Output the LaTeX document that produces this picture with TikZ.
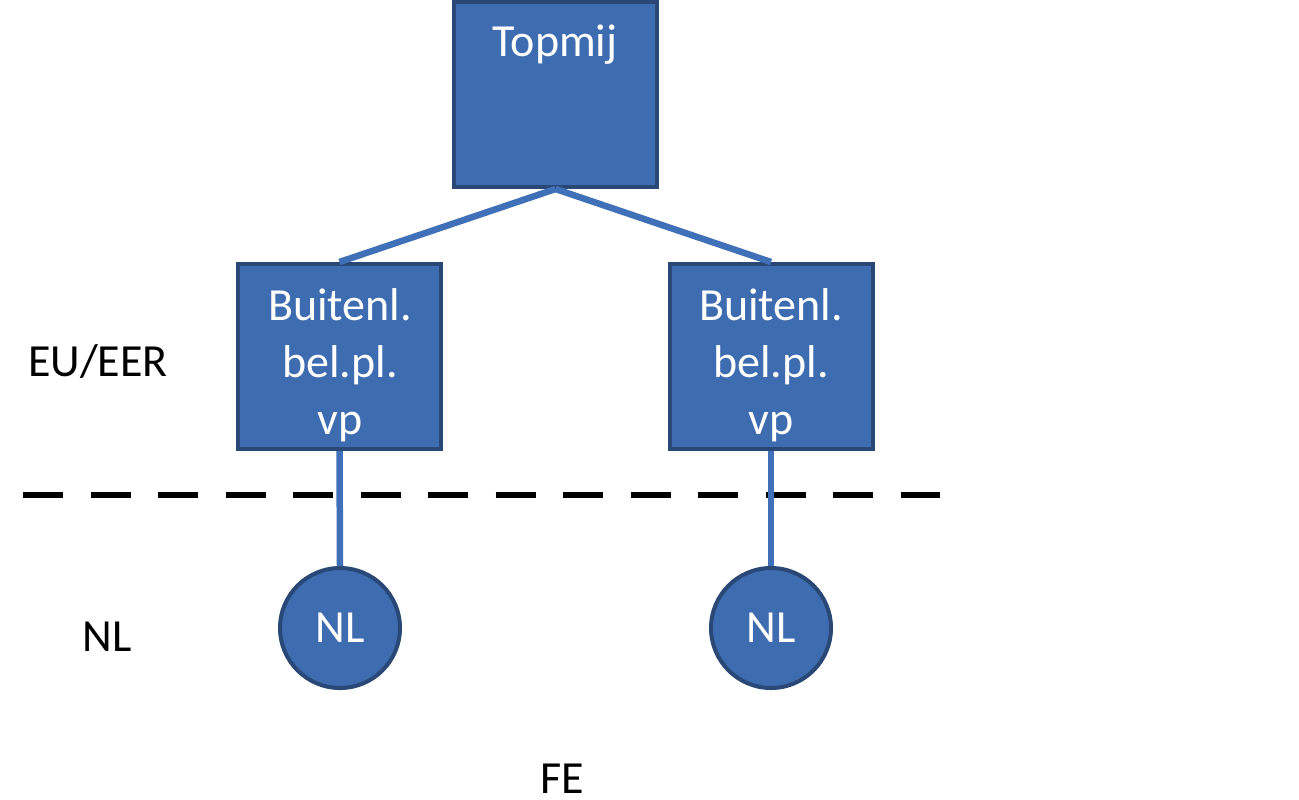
\documentclass[tikz,border=0pt]{standalone}
\usepackage{fontspec}
\setmainfont{Carlito}
\usetikzlibrary{positioning}
\definecolor{boxblue}{RGB}{62,108,176}
\definecolor{boxedge}{RGB}{42,72,118}
\definecolor{linkblue}{RGB}{64,112,184}
\begin{document}
\begin{tikzpicture}[x=0.5pt, y=-0.5pt,
  entity/.style={rectangle, draw=boxedge, fill=boxblue, line width=2pt,
                 minimum width=101.5pt, minimum height=92.5pt, inner sep=0pt},
  pe/.style={circle, draw=boxedge, fill=boxblue, line width=2pt,
             minimum size=60pt, inner sep=0pt, text=white,
             font=\fontsize{23}{28}\selectfont},
  boxtext/.style={text=white, align=center, inner sep=0pt,
                  font=\fontsize{23}{28.5}\selectfont},
  zone/.style={inner sep=0pt, font=\fontsize{23}{28}\selectfont},
  link/.style={linkblue, line width=3.25pt},
  border/.style={black, line width=3pt, dash pattern=on 20pt off 13.75pt}
]
  \useasboundingbox (0,0) rectangle (1299,799);
  % EU/EER - NL border
  \coordinate (bl) at (23, 495);
  \coordinate (br) at (940, 495);
  \draw[border] (bl) -- (br);
  % entities
  \node[entity] (top) at (555.5, 94.5) {};
  \node[entity] (bp1) at (339.5, 356.5) {};
  \node[entity] (bp2) at (771, 356.5) {};
  \node[boxtext] (toptxt) at (555, 45) {Topmij};
  \node[boxtext] (bp1txt) at (340, 365) {Buitenl.\\bel.pl.\\vp};
  \node[boxtext] (bp2txt) at (771, 365) {Buitenl.\\bel.pl.\\vp};
  % connectors
  \draw[link] (top.south) -- (bp1.north);
  \draw[link] (top.south) -- (bp2.north);
  \node[pe] (nl1) at (340, 628) {NL};
  \node[pe] (nl2) at (771, 628) {NL};
  \draw[link] (bp1.south) -- (nl1.north);
  \draw[link] (bp2.south) -- (nl2.north);
  \node[zone] (eu) at (98, 361) {EU/EER};
  \node[zone] (nl) at (107, 637) {NL};
  \node[zone] (fe) at (562, 779) {FE};
\end{tikzpicture}
\end{document}
